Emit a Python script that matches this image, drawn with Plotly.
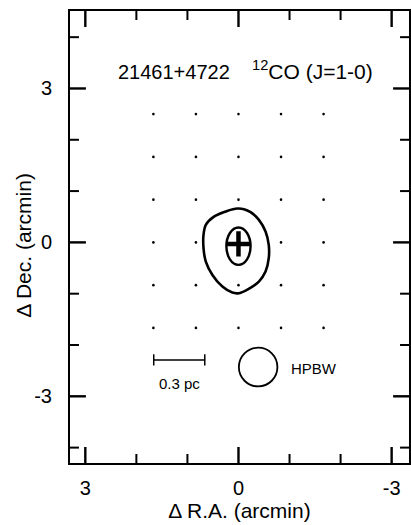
import plotly.graph_objects as go

# --- data (arcmin offsets) ---
grid_ra_arcsec = [-100, -50, 0, 50, 100]
grid_dec_arcsec = [-100, -50, 0, 50, 100, 150]

outer_x = [0.02, 0.22, 0.48, 0.64, 0.685, 0.685, 0.64, 0.51, 0.315, 0.12, -0.01,
           -0.20, -0.40, -0.53, -0.593, -0.593, -0.53, -0.40, -0.237, -0.107, 0.02]
outer_y = [0.66, 0.614, 0.503, 0.341, 0.146, -0.113, -0.374, -0.634, -0.862, -0.979, -0.99,
           -0.906, -0.764, -0.569, -0.308, -0.049, 0.211, 0.439, 0.589, 0.647, 0.66]

inner_center = (0.0, -0.074)
inner_semi = (0.237, 0.364)

source_x = [0.0]
source_y = [-0.03]

hpbw_center = (-0.385, -2.43)
hpbw_diam = 0.755

scalebar_x = [1.66, 0.66]
scalebar_y = [-2.29, -2.29]

x_range = [3.30, -3.34]
y_range = [-4.30, 4.51]
x_tick_vals = [-3, -2, -1, 0, 1, 2, 3]
y_tick_vals = [-4, -3, -2, -1, 0, 1, 2, 3, 4]
major_ticks = [-3, 0, 3]
major_labels = ["-3", "0", "3"]

FONT = "Liberation Sans, Arial, Helvetica, sans-serif"
W, H = 411, 525
M = dict(l=70, r=0, t=11, b=62)
MAJOR_LEN, MINOR_LEN = 16, 9  # pixels

gx, gy = [], []
for d in grid_dec_arcsec:
    for r in grid_ra_arcsec:
        gx.append(r / 60.0)
        gy.append(d / 60.0)

fig = go.Figure()
fig.add_trace(go.Scatter(x=gx, y=gy, mode="markers",
                         marker=dict(color="black", size=2.6), hoverinfo="skip"))
fig.add_trace(go.Scatter(x=outer_x, y=outer_y, mode="lines",
                         line=dict(color="black", width=2.6, shape="spline", smoothing=0.8)))
fig.add_trace(go.Scatter(x=source_x, y=source_y, mode="markers",
                         marker=dict(symbol="cross-thin", size=18, color="black",
                                     line=dict(color="black", width=4.5))))
fig.add_trace(go.Scatter(x=scalebar_x, y=scalebar_y, mode="lines+markers",
                         line=dict(color="black", width=1.5),
                         marker=dict(symbol="line-ns", size=8, color="black",
                                     line=dict(color="black", width=1.5))))

fig.add_shape(type="circle", xref="x", yref="y",
              x0=inner_center[0] - inner_semi[0], x1=inner_center[0] + inner_semi[0],
              y0=inner_center[1] - inner_semi[1], y1=inner_center[1] + inner_semi[1],
              line=dict(color="black", width=2.4))
fig.add_shape(type="circle", xref="x", yref="y",
              x0=hpbw_center[0] - hpbw_diam / 2, x1=hpbw_center[0] + hpbw_diam / 2,
              y0=hpbw_center[1] - hpbw_diam / 2, y1=hpbw_center[1] + hpbw_diam / 2,
              line=dict(color="black", width=1.8))

# inward ticks drawn as paper-referenced shapes (not clipped), positioned from the axis scales
def xfrac(v):
    return (v - x_range[0]) / (x_range[1] - x_range[0])


def yfrac(v):
    return (v - y_range[0]) / (y_range[1] - y_range[0])


pw = W - M["l"] - M["r"]
ph = H - M["t"] - M["b"]
for v in x_tick_vals:
    ln = (MAJOR_LEN if v in major_ticks else MINOR_LEN) / ph
    w = 2.4 if v in major_ticks else 2
    fx = xfrac(v)
    fig.add_shape(type="line", xref="paper", yref="paper", x0=fx, x1=fx, y0=0, y1=ln,
                  line=dict(color="black", width=w), layer="above")
    fig.add_shape(type="line", xref="paper", yref="paper", x0=fx, x1=fx, y0=1, y1=1 - ln,
                  line=dict(color="black", width=w), layer="above")
for v in y_tick_vals:
    ln = (MAJOR_LEN if v in major_ticks else MINOR_LEN) / pw
    w = 2.4 if v in major_ticks else 2
    fy = yfrac(v)
    fig.add_shape(type="line", xref="paper", yref="paper", x0=0, x1=ln, y0=fy, y1=fy,
                  line=dict(color="black", width=w), layer="above")
    fig.add_shape(type="line", xref="paper", yref="paper", x0=1, x1=1 - ln, y0=fy, y1=fy,
                  line=dict(color="black", width=w), layer="above")

fig.add_annotation(x=1.255, y=3.33, text="21461+4722", showarrow=False,
                   font=dict(size=20, color="black", family=FONT),
                   xanchor="center", yanchor="middle")
fig.add_annotation(x=-1.45, y=3.36, text="<sup>12</sup>CO (J=1-0)", showarrow=False,
                   font=dict(size=21, color="black", family=FONT),
                   xanchor="center", yanchor="middle")
fig.add_annotation(x=1.16, y=-2.75, text="0.3 pc", showarrow=False,
                   font=dict(size=15, color="black", family=FONT),
                   xanchor="center", yanchor="middle")
fig.add_annotation(x=-0.98, y=-2.46, text="HPBW", showarrow=False,
                   font=dict(size=15, color="black", family=FONT),
                   xanchor="left", yanchor="middle")
fig.add_annotation(xref="paper", yref="paper", x=-0.138, y=0.481,
                   text="Δ Dec. (arcmin)", textangle=-90, showarrow=False,
                   font=dict(size=21, color="black", family=FONT),
                   xanchor="center", yanchor="middle")

axis_common = dict(
    showgrid=False, zeroline=False, showline=True, linecolor="black",
    linewidth=2, mirror=True, ticks="",
    tickmode="array", tickvals=major_ticks, ticktext=major_labels,
    tickfont=dict(size=20, color="black", family=FONT),
)

fig.update_layout(
    width=W, height=H, margin=M,
    paper_bgcolor="white", plot_bgcolor="white",
    showlegend=False,
    xaxis=dict(range=x_range, ticklabelstandoff=6,
               title=dict(text="Δ R.A. (arcmin)", standoff=5,
                          font=dict(size=21, color="black", family=FONT)),
               **axis_common),
    yaxis=dict(range=y_range, ticklabelstandoff=12, **axis_common),
)

fig.write_html("out.html", config={"displayModeBar": False},
               post_script="document.body.style.margin='0';document.body.style.overflow='hidden';")
